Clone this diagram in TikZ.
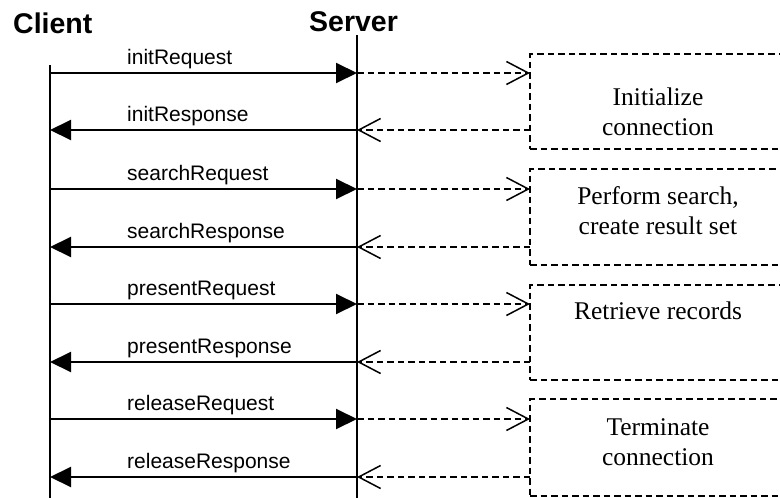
\documentclass[tikz,border=0pt]{standalone}
\usepackage{fontspec}
\setmainfont{Liberation Serif}
\setsansfont{Liberation Sans}
\usetikzlibrary{arrows.meta}
\begin{document}
\begin{tikzpicture}[x=1pt,y=-1pt,
  lifeline/.style={line width=1.6pt},
  msg/.style={line width=2pt,-{Triangle[length=21pt,width=20pt]}},
  work/.style={line width=1.5pt,dash pattern=on 6.5pt off 4pt,-{Straight Barb[length=22pt,width=23pt,line width=1.5pt]}},
  taskbox/.style={draw,line width=1.5pt,dash pattern=on 6.5pt off 4pt,rectangle,anchor=north west,minimum width=290pt,inner sep=0pt,outer sep=0pt},
  lbl/.style={font=\sffamily\fontsize{21}{25}\selectfont,anchor=base west,inner sep=0pt},
  task/.style={font=\fontsize{25.5}{30}\selectfont,align=center,anchor=base,inner sep=0pt},
  head/.style={font=\sffamily\bfseries\fontsize{28.5}{32}\selectfont,anchor=base west,inner sep=0pt}]
\useasboundingbox (0,0) rectangle (780,498);
\clip (0,0) rectangle (780,498);

% headings
\node[head] (client) at (13,33) {Client};
\node[head] (server) at (309,31) {Server};

% lifelines
\coordinate (ctop) at (50,65);
\coordinate (cbot) at (50,498);
\coordinate (stop) at (357,35);
\coordinate (sbot) at (357,498);
\draw[lifeline] (ctop) -- (cbot);
\draw[lifeline] (stop) -- (sbot);

% task boxes
\node[taskbox,minimum height=95pt] (b1) at (530,54) {};
\node[taskbox,minimum height=96pt] (b2) at (530,169) {};
\node[taskbox,minimum height=95pt] (b3) at (530,285) {};
\node[taskbox,minimum height=97pt] (b4) at (530,399) {};

% (base anchor of a two-line node sits on its last line)
\node[task] (t1) at (658,135) {Initialize\\connection};
\node[task] (t2) at (658,234) {Perform search,\\create result set};
\node[task] (t3) at (658,319) {Retrieve records};
\node[task] (t4) at (658,465) {Terminate\\connection};

% message coordinates
\foreach \i/\y in {1/73,2/130,3/189,4/247,5/304,6/362,7/419,8/477}{
  \coordinate (c\i) at (50,\y);
  \coordinate (s\i) at (357,\y);
}

% messages
\draw[msg] (c1) -- (s1);
\draw[msg] (s2) -- (c2);
\draw[msg] (c3) -- (s3);
\draw[msg] (s4) -- (c4);
\draw[msg] (c5) -- (s5);
\draw[msg] (s6) -- (c6);
\draw[msg] (c7) -- (s7);
\draw[msg] (s8) -- (c8);

\node[lbl] (l1) at (127,64) {initRequest};
\node[lbl] (l2) at (127,121) {initResponse};
\node[lbl] (l3) at (127,180) {searchRequest};
\node[lbl] (l4) at (127,238) {searchResponse};
\node[lbl] (l5) at (127,295) {presentRequest};
\node[lbl] (l6) at (127,353) {presentResponse};
\node[lbl] (l7) at (127,410) {releaseRequest};
\node[lbl] (l8) at (127,468) {releaseResponse};

% server work
\draw[work] (s1) -- (b1.west |- s1);
\draw[work] (b1.west |- s2) -- (s2);
\draw[work] (s3) -- (b2.west |- s3);
\draw[work] (b2.west |- s4) -- (s4);
\draw[work] (s5) -- (b3.west |- s5);
\draw[work] (b3.west |- s6) -- (s6);
\draw[work] (s7) -- (b4.west |- s7);
\draw[work] (b4.west |- s8) -- (s8);
\end{tikzpicture}
\end{document}
